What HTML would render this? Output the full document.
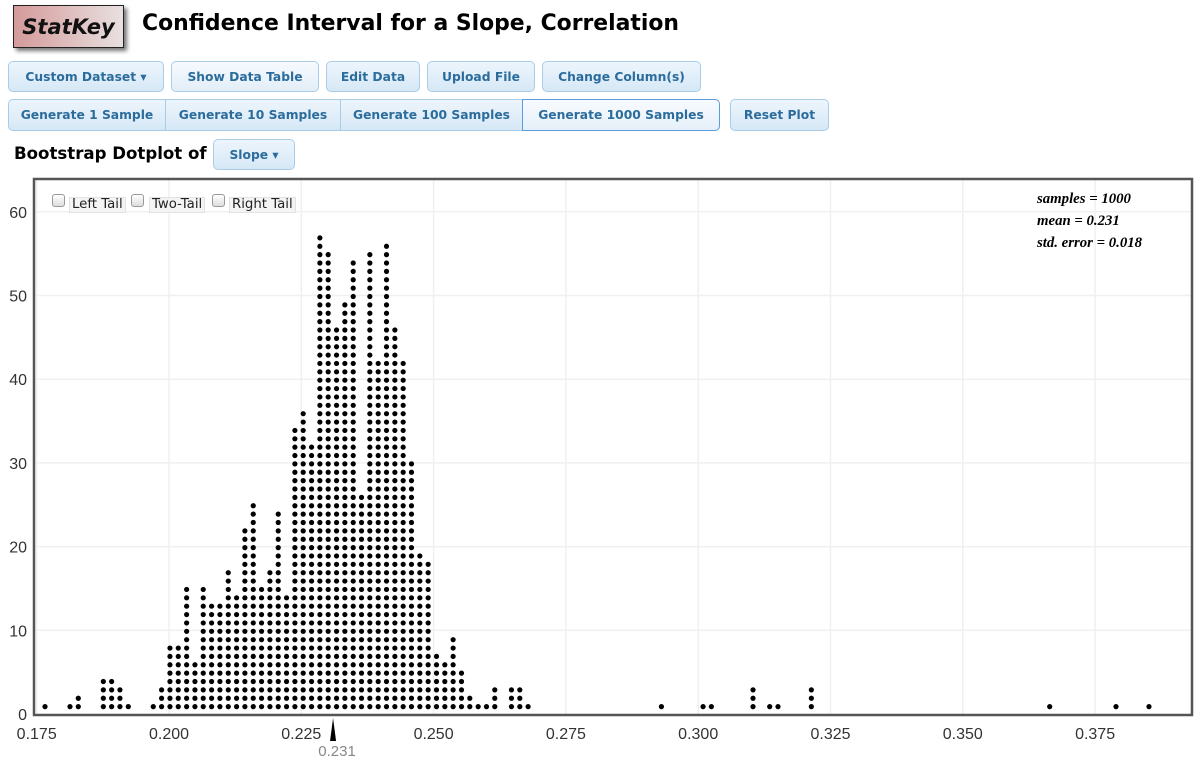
<!DOCTYPE html>
<html><head><meta charset="utf-8">
<style>
body{margin:0;width:1201px;height:764px;background:#fff;font-family:"DejaVu Sans","Liberation Sans",sans-serif;position:relative;overflow:hidden}
.abs{position:absolute}
.btn{position:absolute;box-sizing:border-box;border:1px solid #a9cde9;border-radius:5px;background:linear-gradient(#edf5fc,#d6e8f6);color:#2b6c9c;font-weight:bold;font-size:12.3px;display:flex;align-items:center;justify-content:center;white-space:nowrap}
.grp{border-radius:0}
.cb{position:absolute;width:11px;height:11px;border:1px solid #999;border-radius:3px;background:linear-gradient(#fff,#ddd)}
.cbl{position:absolute;font-size:13.3px;color:#222;background:#f4f4f4;border:1px solid #e2e2e2;padding:0 2px;line-height:14px}
</style></head><body>
<div class="abs" style="left:13px;top:5px;width:109px;height:41px;border:1px solid #222;background:linear-gradient(90deg,#d59a9a,#e8e0e0);box-shadow:3px 3px 4px #777;font:italic bold 21px 'DejaVu Sans',sans-serif;display:flex;align-items:center;justify-content:center;color:#111">StatKey</div>
<div class="abs" style="left:142px;top:11px;font-size:21.9px;font-weight:bold;color:#000">Confidence Interval for a Slope, Correlation</div>

<div class="btn" style="left:8px;top:61px;width:156px;height:31px">Custom Dataset ▾</div>
<div class="btn" style="left:171px;top:61px;width:148px;height:31px;background:linear-gradient(#f6fafe,#e3eef8)">Show Data Table</div>
<div class="btn" style="left:326px;top:61px;width:94px;height:31px">Edit Data</div>
<div class="btn" style="left:427px;top:61px;width:108px;height:31px">Upload File</div>
<div class="btn" style="left:542px;top:61px;width:159px;height:31px">Change Column(s)</div>

<div class="btn grp" style="left:8px;top:99px;width:158px;height:32px;border-radius:5px 0 0 5px">Generate 1 Sample</div>
<div class="btn grp" style="left:165px;top:99px;width:176px;height:32px">Generate 10 Samples</div>
<div class="btn grp" style="left:340px;top:99px;width:183px;height:32px">Generate 100 Samples</div>
<div class="btn grp" style="left:522px;top:99px;width:198px;height:32px;border:1px solid #5b9be0;border-radius:0 5px 5px 0;background:linear-gradient(#f8fbfe,#e6f0f9)">Generate 1000 Samples</div>
<div class="btn" style="left:730px;top:99px;width:99px;height:32px">Reset Plot</div>

<div class="abs" style="left:14px;top:144px;font-size:16.6px;font-weight:bold;color:#000">Bootstrap Dotplot of</div>
<div class="btn" style="left:213px;top:139px;width:82px;height:31px">Slope ▾</div>

<svg class="abs" style="left:0;top:0" width="1201" height="764">
<g id="grid"></g><g id="dots"></g><g id="axes"></g>
</svg>

<div class="cb" style="left:52px;top:194px"></div>
<div class="cbl" style="left:69px;top:197px">Left Tail</div>
<div class="cb" style="left:131px;top:194px"></div>
<div class="cbl" style="left:149px;top:197px">Two-Tail</div>
<div class="cb" style="left:212px;top:194px"></div>
<div class="cbl" style="left:229px;top:197px">Right Tail</div>

<div class="abs" style="left:1037px;top:188px;font:italic bold 14.8px 'Liberation Serif',serif;line-height:22px;color:#000">samples = 1000<br>mean = 0.231<br>std. error = 0.018</div>

<script>
const slopeValues=[0.17657,0.18129,0.18286,0.18759,0.18916,0.19073,0.19231,0.19703,0.19860,0.20018,0.20175,0.20333,0.20490,0.20647,0.20805,0.20962,0.21120,0.21277,0.21434,0.21592,0.21749,0.21907,0.22064,0.22221,0.22379,0.22536,0.22694,0.22851,0.23008,0.23166,0.23323,0.23481,0.23638,0.23795,0.23953,0.24110,0.24268,0.24425,0.24582,0.24740,0.24897,0.25055,0.25212,0.25369,0.25527,0.25684,0.25842,0.25999,0.26156,0.26471,0.26629,0.26786,0.29305,0.30092,0.30249,0.31036,0.31351,0.31508,0.32138,0.36642,0.37895,0.38518];
const dotCounts=[1,1,2,4,4,3,1,1,3,8,8,15,6,15,13,13,17,14,22,25,15,17,24,14,34,36,32,57,55,46,49,54,26,55,42,56,46,42,30,19,18,7,6,9,5,2,1,1,3,3,3,1,1,1,1,3,1,1,3,1,1,1];
const xTicks=[0.175,0.2,0.225,0.25,0.275,0.3,0.325,0.35,0.375];
const xTickLabels=["0.175","0.200","0.225","0.250","0.275","0.300","0.325","0.350","0.375"];
const yTicks=[0,10,20,30,40,50,60];
const meanValue=0.231;

const NS="http://www.w3.org/2000/svg";
const L=34,T=179,R=1192,B=715;
function xScale(v){return 36.7+(v-0.175)*5292;}
function yScale(c){return 714-c*8.37;}
function mk(tag,attrs,parent){const e=document.createElementNS(NS,tag);for(const k in attrs)e.setAttribute(k,attrs[k]);parent.appendChild(e);return e;}
const grid=document.getElementById('grid'),dots=document.getElementById('dots'),axes=document.getElementById('axes');
mk('rect',{x:L,y:T,width:R-L,height:B-T,fill:'#fff'},grid);
yTicks.forEach(t=>{
  const y=yScale(t);
  if(t>0){const g=mk('line',{x1:L,x2:R,y1:y,y2:y,stroke:'#f0f0f0','stroke-width':1.5},grid);
  
  }
  const tx=mk('text',{x:27,y:y+6,'text-anchor':'end','font-size':16,fill:'#333','font-family':'Liberation Sans, sans-serif'},axes);
  tx.textContent=t;
  
  
});
xTicks.forEach((t,i)=>{
  const x=xScale(t);
  const g=mk('line',{x1:x,x2:x,y1:T,y2:B,stroke:'#f0f0f0','stroke-width':1.5},grid);
  
  
  const tx=mk('text',{x:x,y:739,'text-anchor':'middle','font-size':16,fill:'#333','font-family':'Liberation Sans, sans-serif'},axes);
  tx.textContent=xTickLabels[i];
  
  
});
slopeValues.forEach((v,i)=>{
  for(let n=1;n<=dotCounts[i];n++){
    const c=mk('circle',{cx:xScale(v),cy:yScale(n)+1,r:2.6,fill:'#000'},dots);
    
    
  }
});
const fr=mk('rect',{x:L,y:T,width:R-L,height:B-T,fill:'none',stroke:'#555','stroke-width':2.5},axes);


const mx=xScale(meanValue);
const tri=mk('polygon',{points:`${mx-3},${B+26} ${mx+3},${B+26} ${mx},${B+3}`,fill:'#000'},axes);


const ml=mk('text',{x:mx+4,y:756,'text-anchor':'middle','font-size':15,fill:'#888','font-family':'Liberation Sans, sans-serif'},axes);
ml.textContent=meanValue.toFixed(3);


</script>
</body></html>
